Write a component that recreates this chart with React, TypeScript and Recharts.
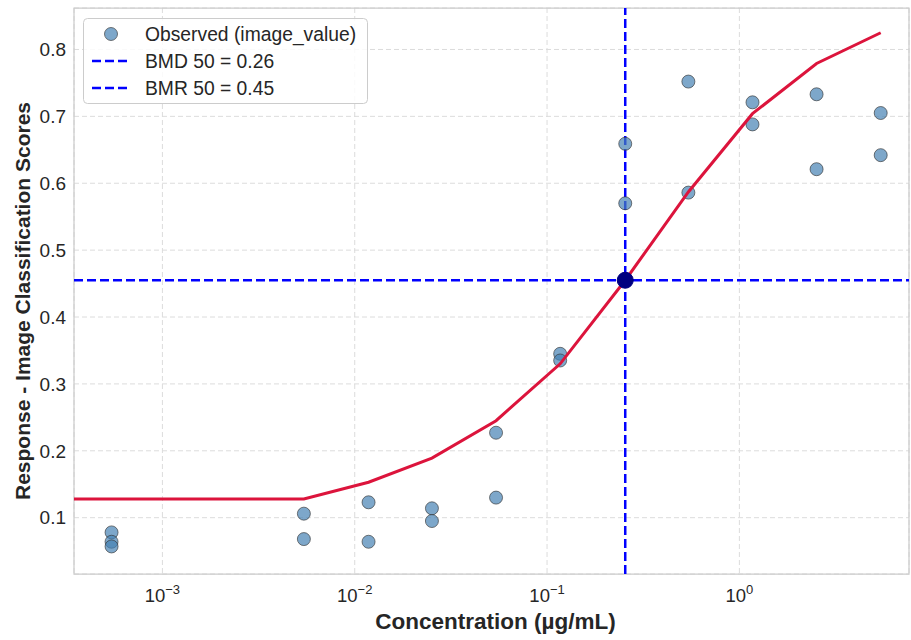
import React from 'react';
import {
  ScatterChart, Scatter, XAxis, YAxis, CartesianGrid, ReferenceLine, ReferenceDot, ReferenceArea, Label,
} from 'recharts';

// observed points (concentration in µg/mL, response)
const obsConc = [
  0.000544, 0.000544, 0.000544, 0.00544, 0.00544, 0.0118, 0.0118, 0.0252, 0.0252, 0.0543, 0.0543,
  0.117, 0.117, 0.255, 0.255, 0.543, 0.543, 1.17, 1.17, 2.52, 2.52, 5.43, 5.43,
];
const obsResp = [
  0.078, 0.064, 0.057, 0.106, 0.068, 0.123, 0.064, 0.114, 0.095, 0.227, 0.13,
  0.345, 0.335, 0.659, 0.57, 0.752, 0.586, 0.721, 0.688, 0.733, 0.621, 0.705, 0.642,
];

// fitted curve
const fitConc = [0.000347, 0.00544, 0.0118, 0.0252, 0.0543, 0.117, 0.255, 0.543, 1.17, 2.52, 5.43];
const fitResp = [0.128, 0.128, 0.153, 0.189, 0.245, 0.33, 0.455, 0.587, 0.704, 0.779, 0.825];

const bmd = 0.255;
const bmr = 0.455;
const legendLabels = ['Observed (image_value)', 'BMD 50 = 0.26', 'BMR 50 = 0.45'];

const xDomain = [0.000347, 7.62];
const yDomain = [0.0158, 0.862];
const xTicks = [0.001, 0.01, 0.1, 1];
const yTicks = [0.1, 0.2, 0.3, 0.4, 0.5, 0.6, 0.7, 0.8];

const observed = obsConc.map((x, i) => ({ x, y: obsResp[i] }));
const fit = fitConc.map((x, i) => ({ x, y: fitResp[i] }));

const FONT = '"Liberation Sans", Arial, sans-serif';
const TEXT = '#262626';

const LogTick = (props: any) => {
  const { x, y, payload } = props;
  const e = Math.round(Math.log10(payload.value));
  return (
    <text x={x} y={y + 20} textAnchor="middle" fill={TEXT} fontSize={18.5} fontFamily={FONT}>
      <tspan>10</tspan>
      <tspan dy={-8} fontSize={13}>{e < 0 ? '\u2212' + -e : String(e)}</tspan>
    </text>
  );
};

const Dot = (props: any) => (
  <circle cx={props.cx} cy={props.cy} r={6.5} fill="#4682b4" fillOpacity={0.7} stroke="#333" strokeOpacity={0.8} strokeWidth={0.8} />
);

const LegendBox = () => (
  <svg width={300} height={100} style={{ position: 'absolute', left: 83, top: 18 }}>
    <rect x={0.5} y={0.5} width={284} height={85} rx={4} fill="#fff" fillOpacity={0.85} stroke="#ccc" />
    <circle cx={28} cy={16} r={6.5} fill="#4682b4" fillOpacity={0.7} stroke="#333" strokeOpacity={0.8} strokeWidth={0.8} />
    <line x1={9} x2={48} y1={43} y2={43} stroke="#0000ff" strokeWidth={2.5} strokeDasharray="9 4" />
    <line x1={9} x2={48} y1={70} y2={70} stroke="#0000ff" strokeWidth={2.5} strokeDasharray="9 4" />
    {legendLabels.map((t, i) => (
      <text key={t} x={62} y={23 + i * 27} fontSize={19.3} fill={TEXT} fontFamily={FONT}>{t}</text>
    ))}
  </svg>
);

export default function App() {
  return (
    <div style={{ position: 'absolute', left: 0, top: 0, width: 911, height: 640, background: '#fff' }}>
      <ScatterChart width={911} height={640} margin={{ top: 8, right: 2, bottom: 0, left: 0 }}>
        <CartesianGrid stroke="#dcdcdc" strokeDasharray="5 3" />
        <XAxis
          type="number"
          dataKey="x"
          scale="log"
          domain={xDomain}
          allowDataOverflow
          ticks={xTicks}
          tick={<LogTick />}
          tickLine={false}
          axisLine={false}
          height={66}
        >
          <Label
            content={(p: any) => (
              <text x={p.viewBox.x + p.viewBox.width / 2 + 4} y={629} textAnchor="middle" fontSize={22.5} fontWeight="bold" fill={TEXT} fontFamily={FONT}>
                Concentration (µg/mL)
              </text>
            )}
          />
        </XAxis>
        <YAxis
          type="number"
          dataKey="y"
          domain={yDomain}
          allowDataOverflow
          ticks={yTicks}
          tickFormatter={(v: number) => v.toFixed(1)}
          tick={{ fontSize: 19, fill: TEXT, fontFamily: FONT }}
          tickLine={false}
          axisLine={false}
          width={74}
        >
          <Label
            content={(p: any) => (
              <text x={0} y={0} transform={`translate(30, ${p.viewBox.y + p.viewBox.height / 2 + 10}) rotate(-90)`} textAnchor="middle" fontSize={21} fontWeight="bold" fill={TEXT} fontFamily={FONT}>
                Response - Image Classification Scores
              </text>
            )}
          />
        </YAxis>
        <ReferenceArea x1={xDomain[0]} x2={xDomain[1]} y1={yDomain[0]} y2={yDomain[1]} fill="none" stroke="#ccc" strokeWidth={1.25} />
        <Scatter data={observed} shape={<Dot />} isAnimationActive={false} />
        <Scatter
          data={fit}
          line={{ stroke: '#dc143c', strokeWidth: 3 }}
          shape={() => <g />}
          isAnimationActive={false}
        />
        <ReferenceLine x={bmd} stroke="#0000ff" strokeWidth={2.5} strokeDasharray="9 4" />
        <ReferenceLine y={bmr} stroke="#0000ff" strokeWidth={2.5} strokeDasharray="9 4" />
        <ReferenceDot x={bmd} y={bmr} r={8} fill="#000080" stroke="#000080" />
      </ScatterChart>
      <LegendBox />
    </div>
  );
}
